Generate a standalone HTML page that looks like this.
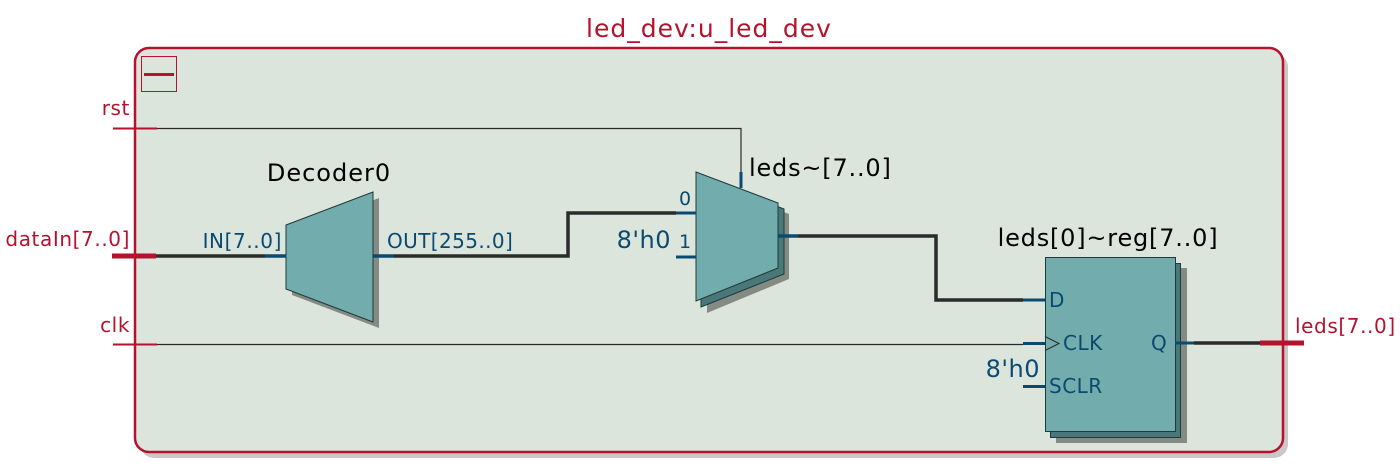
<!DOCTYPE html>
<html><head><meta charset="utf-8"><style>
html,body{margin:0;padding:0;background:#fff;width:1400px;height:469px;overflow:hidden}
svg text{font-family:"DejaVu Sans","Liberation Sans",sans-serif}
</style></head><body>
<svg width="1400" height="469" viewBox="0 0 1400 469" xmlns="http://www.w3.org/2000/svg">
<rect x="140" y="53" width="1148" height="405" rx="14" fill="#c8c8c8"/>
<rect x="135" y="48" width="1148" height="404" rx="14" fill="#dce5dc" stroke="#b5122e" stroke-width="2.5"/>
<text x="709" y="37" font-size="25" letter-spacing="1" fill="#b5122e" text-anchor="middle">led_dev:u_led_dev</text>
<rect x="141.5" y="56.5" width="35" height="35" fill="none" stroke="#b5122e" stroke-width="1"/>
<rect x="144" y="73" width="30" height="3" fill="#b5122e"/>
<text x="130" y="115" font-size="20" letter-spacing="0.6" fill="#b5122e" text-anchor="end">rst</text>
<text x="130" y="246" font-size="20" letter-spacing="0.6" fill="#b5122e" text-anchor="end">dataIn[7..0]</text>
<text x="130" y="332" font-size="20" letter-spacing="0.6" fill="#b5122e" text-anchor="end">clk</text>
<line x1="113" y1="128.5" x2="157" y2="128.5" stroke="#b5122e" stroke-width="2"/>
<line x1="112" y1="256" x2="156" y2="256" stroke="#b5122e" stroke-width="5"/>
<line x1="113" y1="344.5" x2="157" y2="344.5" stroke="#b5122e" stroke-width="2"/>
<polyline points="157,128.5 741,128.5 741,172" fill="none" stroke="#2b2b2b" stroke-width="1.2"/>
<line x1="156" y1="256" x2="265" y2="256" stroke="#2b2b2b" stroke-width="3.5"/>
<polyline points="394,256 568,256 568,213 676,213" fill="none" stroke="#2b2b2b" stroke-width="3.5"/>
<polyline points="798,236 936,236 936,300 1023,300" fill="none" stroke="#2b2b2b" stroke-width="3.5"/>
<line x1="157" y1="344.5" x2="1023" y2="344.5" stroke="#2b2b2b" stroke-width="1.2"/>
<line x1="1194" y1="343" x2="1260" y2="343" stroke="#2b2b2b" stroke-width="3.5"/>
<line x1="1260" y1="343" x2="1304" y2="343" stroke="#b5122e" stroke-width="5"/>
<text x="1295" y="333" font-size="20" letter-spacing="0.6" fill="#b5122e">leds[7..0]</text>
<text x="329" y="181" font-size="24" letter-spacing="1" fill="#000" text-anchor="middle">Decoder0</text>
<polygon points="292,231 379,198 379,328 292,295" fill="#848a84"/>
<polygon points="286,225 373,192 373,322 286,289" fill="#73acac" stroke="#1e3a3a" stroke-width="1"/>
<line x1="265" y1="256" x2="286" y2="256" stroke="#0a4a70" stroke-width="3.5"/>
<line x1="373" y1="256" x2="394" y2="256" stroke="#0a4a70" stroke-width="3.5"/>
<text x="282" y="248" font-size="20" letter-spacing="0.6" fill="#0a4a70" text-anchor="end">IN[7..0]</text>
<text x="387" y="248" font-size="20" letter-spacing="0.4" fill="#0a4a70">OUT[255..0]</text>
<polygon points="707,183 789,214 789,279 707,313" fill="#848a84"/>
<polygon points="701,177 784,209 784,274 701,307" fill="#4a7878" stroke="#1e3a3a" stroke-width="1"/>
<polygon points="696,172 778,203 778,268 696,301" fill="#73acac" stroke="#1e3a3a" stroke-width="1"/>
<line x1="741" y1="172" x2="741" y2="188" stroke="#0a4a70" stroke-width="3"/>
<line x1="676" y1="213" x2="696" y2="213" stroke="#0a4a70" stroke-width="3"/>
<line x1="676" y1="257" x2="696" y2="257" stroke="#0a4a70" stroke-width="3"/>
<line x1="778" y1="236" x2="798" y2="236" stroke="#0a4a70" stroke-width="3.5"/>
<text x="685" y="205" font-size="19" fill="#0a4a70" text-anchor="middle">0</text>
<text x="685" y="248" font-size="19" fill="#0a4a70" text-anchor="middle">1</text>
<text x="671" y="248" font-size="24" letter-spacing="0.5" fill="#0a4a70" text-anchor="end">8'h0</text>
<text x="749" y="176" font-size="24" letter-spacing="0.8" fill="#000">leds~[7..0]</text>
<text x="1108" y="246" font-size="24" letter-spacing="0.8" fill="#000" text-anchor="middle">leds[0]~reg[7..0]</text>
<rect x="1056" y="268" width="131" height="175" fill="#848a84"/>
<rect x="1050.5" y="263.5" width="130" height="174" fill="#4a7878" stroke="#1e3a3a" stroke-width="1"/>
<rect x="1045.5" y="257.5" width="130" height="174" fill="#73acac" stroke="#1e3a3a" stroke-width="1"/>
<line x1="1023" y1="300" x2="1045" y2="300" stroke="#0a4a70" stroke-width="3"/>
<line x1="1023" y1="343.5" x2="1045" y2="343.5" stroke="#0a4a70" stroke-width="3"/>
<line x1="1023" y1="386.5" x2="1045" y2="386.5" stroke="#0a4a70" stroke-width="3"/>
<line x1="1175" y1="343" x2="1194" y2="343" stroke="#0a4a70" stroke-width="3"/>
<polyline points="1045,336.5 1059,343.5 1045,350.5" fill="none" stroke="#2b2b2b" stroke-width="1"/>
<text x="1049" y="307" font-size="20" fill="#0a4a70">D</text>
<text x="1063" y="350" font-size="20" letter-spacing="0.5" fill="#0a4a70">CLK</text>
<text x="1049" y="393" font-size="20" letter-spacing="0.5" fill="#0a4a70">SCLR</text>
<text x="1151" y="350" font-size="20" fill="#0a4a70">Q</text>
<text x="1040" y="377" font-size="24" letter-spacing="0.5" fill="#0a4a70" text-anchor="end">8'h0</text>
</svg>
</body></html>
